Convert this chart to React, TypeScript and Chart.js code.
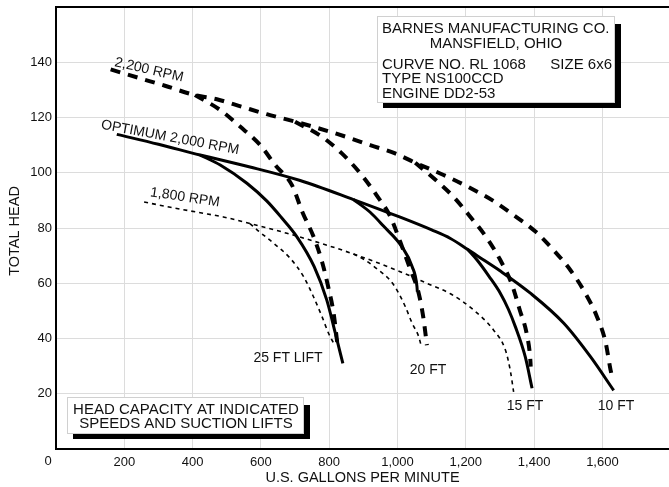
import React, { useEffect, useRef } from "react";
import { Chart, registerables } from "chart.js";

Chart.register(...registerables);

// ---- data: [gallons per minute, total head] ----
const optimum2000: number[][] = [[178,113.9],[300,110.3],[422,106.4],[568,102.1],[715,97.2],[871,90.3],[1008,83.9],[1100,79.3],[1155,76.2],[1205,72.3],[1250,68.6],[1300,64.5],[1389,56.4],[1487,45.5],[1565,33.4],[1633,21.2]];
const lift25At2000: number[][] = [[422,106.4],[481,102.8],[559,96.2],[617,89.8],[660,83.8],[705,76.9],[756,66],[793,53.9],[818,41.9],[840,31]];
const lift20At2000: number[][] = [[871,90.3],[920,85.7],[959,80.7],[1013,73.2],[1043,66],[1057,58.8],[1058,57]];
const lift15At2000: number[][] = [[1205,72.3],[1233,68.4],[1268,62.5],[1301,56.4],[1325,50.5],[1345,44.3],[1374,33.4],[1394,22]];

const rpm2200: number[][] = [[160,137.4],[246,134.2],[319,131.5],[407,128.1],[471,126.6],[544,123.9],[617,121.2],[700,118.5],[766,116.2],[847,113.1],[920,110],[993,107],[1052,103.6],[1135,99.2],[1205,95],[1277,90.1],[1340,84.7],[1404,78.7],[1457,72],[1506,64.8],[1550,56.4],[1584,47.9],[1609,38.8],[1623,29.2],[1626,27.4]];
const lift25At2200: number[][] = [[407,128.1],[481,122.7],[539,116.7],[598,110],[642,102.8],[691,95.5],[722,85.6],[754,76.9],[779,67.8],[798,58.2],[813,49.1],[822,40.1],[824,38]];
const lift20At2200: number[][] = [[700,118.5],[779,113],[837,107],[891,99.8],[938,92],[979,84.1],[1008,75],[1036,65.5],[1062,56.4],[1076,47.3],[1086,37.6]];
const lift15At2200: number[][] = [[1052,103.6],[1106,98],[1164,91.3],[1213,84.1],[1262,76.3],[1301,68.4],[1335,59.6],[1358,50.3],[1379,41.3],[1389,32.2],[1390,29.8]];

const rpm1800: number[][] = [[258,89.4],[331,87.6],[419,85.6],[490,84],[568,81.6],[676,78.1],[803,73.4],[871,70.6],[940,67.5],[1008,64.2],[1086,60],[1155,56.2],[1223,50.3],[1281,43.1],[1316,35.8],[1330,28.6],[1340,20.7]];
const lift25At1800: number[][] = [[568,81.6],[593,78.9],[637,74.5],[686,69],[725,62.4],[754,55.1],[779,47.9],[798,41.9],[813,38.3]];
const lift20At1800: number[][] = [[871,70.6],[905,68.4],[944,64.8],[979,61],[998,57.6],[1023,51.5],[1043,45.5],[1062,40.7],[1068,38]];

const xTicks = [200, 400, 600, 800, 1000, 1200, 1400, 1600];
const yTicks = [20, 40, 60, 80, 100, 120, 140];

const titleLines = ["BARNES MANUFACTURING CO.", "MANSFIELD, OHIO", "CURVE NO. RL 1068", "SIZE 6x6", "TYPE NS100CCD", "ENGINE DD2-53"];
const noteLines = ["HEAD CAPACITY AT INDICATED", "SPEEDS AND SUCTION LIFTS"];
const speedLabels = ["2,200 RPM", "OPTIMUM 2,000 RPM", "1,800 RPM"];
const liftLabels = ["25 FT LIFT", "20 FT", "15 FT", "10 FT"];
const xTitle = "U.S. GALLONS PER MINUTE";
const yTitle = "TOTAL HEAD";

const FONT = "'Liberation Sans', Arial, Helvetica, sans-serif";

const toPts = (a: number[][]) => a.map(([x, y]) => ({ x, y }));

function solid(data: number[][]) {
  return { data: toPts(data), borderColor: "#000", borderWidth: 3, pointRadius: 0, fill: false, cubicInterpolationMode: "monotone" as const };
}
function heavyDash(data: number[][]) {
  return { data: toPts(data), borderColor: "#000", borderWidth: 4, borderDash: [10, 8], pointRadius: 0, fill: false, cubicInterpolationMode: "monotone" as const };
}
function lightDash(data: number[][]) {
  return { data: toPts(data), borderColor: "#000", borderWidth: 1.6, borderDash: [4, 4], pointRadius: 0, fill: false, cubicInterpolationMode: "monotone" as const };
}

function shadowBox(ctx: CanvasRenderingContext2D, x: number, y: number, w: number, h: number) {
  ctx.fillStyle = "#000";
  ctx.fillRect(x + 6, y + 8, w, h - 3);
  ctx.fillStyle = "#fff";
  ctx.fillRect(x, y, w, h);
  ctx.strokeStyle = "#d0d0d0";
  ctx.lineWidth = 1;
  ctx.strokeRect(x + 0.5, y + 0.5, w - 1, h - 1);
}

const overlay = {
  id: "overlay",
  afterDraw(chart: any) {
    const ctx: CanvasRenderingContext2D = chart.ctx;
    const { left, right, top } = chart.chartArea;
    ctx.save();
    // top border
    ctx.strokeStyle = "#000";
    ctx.lineWidth = 2;
    ctx.beginPath();
    ctx.moveTo(left - 1, top);
    ctx.lineTo(right, top);
    ctx.stroke();

    ctx.fillStyle = "#111";
    // origin label
    ctx.font = `13px ${FONT}`;
    ctx.textAlign = "center";
    ctx.textBaseline = "middle";
    ctx.fillText("0", 48, 461);

    // axis titles
    ctx.font = `14.5px ${FONT}`;
    ctx.fillText(xTitle, (left + right) / 2, 478);
    ctx.save();
    ctx.translate(15, 231);
    ctx.rotate(-Math.PI / 2);
    ctx.fillText(yTitle, 0, 0);
    ctx.restore();

    // speed labels (rotated)
    const rot = (t: string, x: number, y: number, deg: number) => {
      ctx.save();
      ctx.translate(x, y);
      ctx.rotate((deg * Math.PI) / 180);
      ctx.fillText(t, 0, 0);
      ctx.restore();
    };
    ctx.font = `14px ${FONT}`;
    rot(speedLabels[0], 149, 70, 13);
    rot(speedLabels[1], 170, 137.5, 10.5);
    rot(speedLabels[2], 185, 197.5, 8.5);

    // lift labels
    ctx.fillText(liftLabels[0], 288, 358);
    ctx.fillText(liftLabels[1], 428, 370);
    ctx.fillText(liftLabels[2], 525, 406);
    ctx.fillText(liftLabels[3], 616, 406);

    // title box
    shadowBox(ctx, 377, 16, 238, 87);
    ctx.fillStyle = "#111";
    ctx.font = `15px ${FONT}`;
    ctx.textAlign = "left";
    ctx.fillText(titleLines[0], 382, 29);
    ctx.textAlign = "center";
    ctx.fillText(titleLines[1], 496, 44);
    ctx.textAlign = "left";
    ctx.fillText(titleLines[2], 382, 65);
    ctx.textAlign = "right";
    ctx.fillText(titleLines[3], 612, 65);
    ctx.textAlign = "left";
    ctx.fillText(titleLines[4], 382, 79);
    ctx.fillText(titleLines[5], 382, 94);

    // note box
    shadowBox(ctx, 67, 397, 237, 37);
    ctx.fillStyle = "#111";
    ctx.textAlign = "center";
    ctx.fillText(noteLines[0], 186, 410);
    ctx.fillText(noteLines[1], 186, 424);
    ctx.restore();
  },
};

export default function App() {
  const ref = useRef<HTMLCanvasElement>(null);
  useEffect(() => {
    if (!ref.current) return;
    const chart = new Chart(ref.current, {
      type: "line",
      data: {
        datasets: [
          lightDash(rpm1800), lightDash(lift25At1800), lightDash(lift20At1800),
          heavyDash(rpm2200), heavyDash(lift25At2200), heavyDash(lift20At2200), heavyDash(lift15At2200),
          solid(optimum2000), solid(lift25At2000), solid(lift20At2000), solid(lift15At2000),
        ] as any,
      },
      options: {
        responsive: false,
        animation: false,
        layout: { padding: { top: 7, right: 0, left: 0, bottom: 0 } },
        plugins: { legend: { display: false }, tooltip: { enabled: false } },
        scales: {
          x: {
            type: "linear",
            min: 0,
            max: 1795,
            afterBuildTicks: (s: any) => { s.ticks = xTicks.map((value) => ({ value })); },
            afterFit: (s: any) => { s.height = 38; s.paddingLeft = 0; s.paddingRight = 0; },
            grid: { color: "#dcdcdc", lineWidth: 1, drawTicks: false },
            border: { display: true, color: "#000", width: 2 },
            ticks: {
              padding: 6,
              color: "#111",
              font: { family: FONT, size: 13 },
              maxRotation: 0,
              autoSkip: false,
              callback: (v: any) => Number(v).toLocaleString("en-US"),
            },
          },
          y: {
            type: "linear",
            min: 0,
            max: 160,
            afterBuildTicks: (s: any) => { s.ticks = yTicks.map((value) => ({ value })); },
            afterFit: (s: any) => { s.width = 56; s.paddingTop = 0; s.paddingBottom = 0; },
            grid: { color: "#dcdcdc", lineWidth: 1, drawTicks: false },
            border: { display: true, color: "#000", width: 2 },
            ticks: {
              padding: 4,
              color: "#111",
              autoSkip: false,
              font: { family: FONT, size: 13 },
              callback: (v: any) => String(v),
            },
          },
        },
      } as any,
      plugins: [overlay],
    });
    return () => chart.destroy();
  }, []);
  return (
    <div style={{ position: "absolute", left: 0, top: 0, width: 669, height: 487, background: "#fff" }}>
      <canvas ref={ref} width={669} height={487} style={{ display: "block" }} />
    </div>
  );
}
